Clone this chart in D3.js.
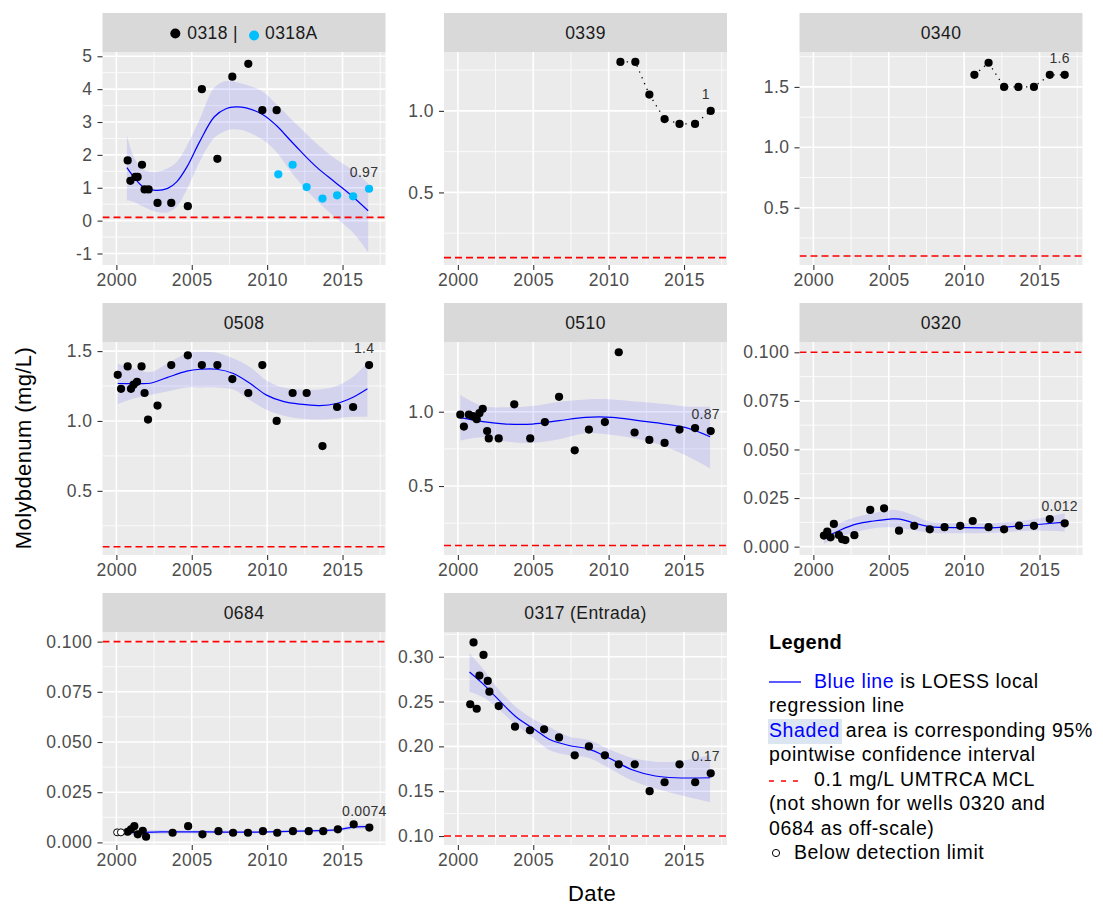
<!DOCTYPE html>
<html>
<head>
<meta charset="utf-8">
<script src="https://cdn.jsdelivr.net/npm/d3@7"></script>
<style>
  body { margin: 0; background: #fff; }
  svg text { font-family: "Liberation Sans", Arial, sans-serif; }
</style>
</head>
<body>
<div id="chart"></div>
<script>
// ---- data ----
// well 0318 and its replacement 0318A
var yr0318 = [2000.75, 2000.93, 2001.26, 2001.41, 2001.70, 2001.87, 2002.14, 2002.73, 2003.64, 2004.74, 2005.67, 2006.70, 2007.69, 2008.75, 2009.68, 2010.63];
var mo0318 = [1.83, 1.21, 1.33, 1.33, 1.70, 0.95, 0.95, 0.54, 0.54, 0.44, 4.00, 1.88, 4.38, 4.77, 3.36, 3.36];
var yr0318A = [2010.74, 2011.69, 2012.62, 2013.67, 2014.64, 2015.70, 2016.76];
var mo0318A = [1.41, 1.70, 1.02, 0.67, 0.77, 0.74, 0.97];
// loess rows: [year, fit, lower, upper]
var loess0318 = [[2000.7,1.61,0.62,2.59],[2001.2,1.30,0.56,1.90],[2001.8,1.02,0.42,1.55],[2002.6,0.92,0.27,1.48],
  [2003.4,0.98,0.25,1.59],[2004.0,1.18,0.42,1.78],[2004.7,1.65,0.97,2.30],[2005.5,2.38,1.77,3.05],[2006.5,3.16,2.52,4.05],
  [2007.3,3.41,2.74,4.25],[2007.9,3.46,2.78,4.22],[2008.6,3.43,2.72,4.13],[2009.7,3.23,2.46,3.93],[2010.6,2.90,2.10,3.55],
  [2011.5,2.46,1.53,3.14],[2012.2,2.12,1.14,2.82],[2013.3,1.62,0.60,2.34],[2014.5,1.17,0.10,1.89],[2015.7,0.72,-0.37,1.53],
  [2016.7,0.30,-0.97,1.13]];

var yr0339 = [2010.78, 2011.77, 2012.70, 2013.71, 2014.70, 2015.73, 2016.77];
var mo0339 = [1.30, 1.30, 1.10, 0.95, 0.92, 0.92, 1.00];

var yr0340 = [2010.68, 2011.62, 2012.65, 2013.60, 2014.63, 2015.68, 2016.67];
var mo0340 = [1.60, 1.70, 1.50, 1.50, 1.50, 1.60, 1.60];

var yr0508 = [2000.09, 2000.31, 2000.75, 2000.97, 2001.14, 2001.37, 2001.67, 2001.87, 2002.10, 2002.73, 2003.64, 2004.74,
  2005.67, 2006.70, 2007.69, 2008.75, 2009.68, 2010.63, 2011.69, 2012.62, 2013.67, 2014.64, 2015.70, 2016.76];
var mo0508 = [1.33, 1.23, 1.39, 1.23, 1.26, 1.28, 1.39, 1.20, 1.01, 1.11, 1.40, 1.47,
  1.40, 1.40, 1.30, 1.20, 1.40, 1.00, 1.20, 1.20, 0.82, 1.10, 1.10, 1.40];
var loess0508 = [[2000.09,1.268,1.12,1.41],[2001.14,1.268,1.16,1.376],[2002.25,1.27,1.185,1.35],[2003.35,1.31,1.21,1.41],
  [2004.67,1.357,1.24,1.483],[2005.56,1.37,1.24,1.495],[2006.65,1.37,1.24,1.488],[2007.76,1.34,1.225,1.447],
  [2008.86,1.27,1.15,1.387],[2009.96,1.185,1.08,1.29],[2011.06,1.14,1.04,1.24],[2012.17,1.12,1.018,1.226],
  [2013.49,1.11,1.01,1.226],[2014.6,1.125,1.018,1.25],[2015.7,1.17,1.03,1.316],[2016.65,1.23,1.03,1.416]];

var yr0510 = [2000.16, 2000.40, 2000.73, 2000.99, 2001.25, 2001.43, 2001.65, 2001.94, 2002.05, 2002.71, 2003.74, 2004.80,
  2005.77, 2006.71, 2007.75, 2008.69, 2009.75, 2010.67, 2011.72, 2012.70, 2013.71, 2014.70, 2015.73, 2016.77];
var mo0510 = [0.98, 0.90, 0.98, 0.97, 0.95, 0.99, 1.02, 0.87, 0.82, 0.82, 1.05, 0.82,
  0.93, 1.10, 0.74, 0.88, 0.93, 1.40, 0.86, 0.81, 0.79, 0.88, 0.89, 0.87];
var loess0510 = [[2000.16,0.96,0.805,1.112],[2001.65,0.933,0.828,1.038],[2003.19,0.917,0.80,1.03],[2004.95,0.917,0.79,1.038],
  [2006.71,0.94,0.814,1.067],[2008.48,0.962,0.855,1.083],[2010.23,0.962,0.843,1.083],[2011.99,0.94,0.814,1.067],
  [2013.76,0.917,0.764,1.052],[2015.29,0.888,0.697,1.034],[2016.73,0.832,0.619,1.034]];

var yr0320 = [2000.70, 2000.92, 2001.14, 2001.36, 2001.69, 2001.91, 2002.12, 2002.72, 2003.77, 2004.69, 2005.68,
  2006.69, 2007.72, 2008.70, 2009.74, 2010.57, 2011.62, 2012.65, 2013.64, 2014.63, 2015.68, 2016.67];
var mo0320 = [0.0057, 0.0077, 0.0048, 0.0117, 0.0060, 0.0038, 0.0034, 0.0059, 0.0189, 0.0197, 0.0082,
  0.0107, 0.0089, 0.0100, 0.0107, 0.0132, 0.0100, 0.0089, 0.0108, 0.0107, 0.0142, 0.0120];
var loess0320 = [[2000.70,0.0043,0.0015,0.0069],[2001.8,0.0086,0.0051,0.0123],[2002.89,0.0117,0.0077,0.0154],
  [2003.99,0.0132,0.0095,0.0172],[2005.09,0.0142,0.0100,0.0189],[2005.74,0.0142,0.0095,0.0185],[2006.62,0.0123,0.0086,0.0163],
  [2007.72,0.0103,0.0072,0.0129],[2009.91,0.0098,0.0069,0.0120],[2012.11,0.0098,0.0072,0.0123],[2014.3,0.0110,0.0082,0.0137],
  [2016.67,0.0126,0.0078,0.0172]];

var yr0684nd = [2000.05, 2000.30];
var mo0684nd = [0.0050, 0.0050];
var yr0684 = [2000.75, 2000.97, 2001.19, 2001.42, 2001.75, 2001.97, 2003.73, 2004.76, 2005.71, 2006.77, 2007.74,
  2008.73, 2009.72, 2010.67, 2011.71, 2012.76, 2013.72, 2014.69, 2015.74, 2016.78];
var mo0684 = [0.0053, 0.0065, 0.0081, 0.0040, 0.0058, 0.0028, 0.0048, 0.0081, 0.0040, 0.0056, 0.0048,
  0.0048, 0.0056, 0.0048, 0.0056, 0.0056, 0.0056, 0.0065, 0.0090, 0.0074];
var loess0684 = [[2000.05,0.0047,0.0034,0.0060],[2003.0,0.0052,0.0042,0.0062],[2006.0,0.0052,0.0044,0.0060],
  [2009.0,0.0051,0.0044,0.0058],[2012.0,0.0056,0.0049,0.0063],[2014.6,0.0062,0.0053,0.0071],[2015.7,0.0076,0.0066,0.0086],
  [2016.78,0.0078,0.0066,0.0090]];

var yr0317 = [2000.82, 2001.04, 2001.25, 2001.43, 2001.70, 2001.98, 2002.09, 2002.71, 2003.79, 2004.78, 2005.72,
  2006.71, 2007.75, 2008.69, 2009.75, 2010.67, 2011.73, 2012.72, 2013.71, 2014.70, 2015.74, 2016.77];
var mo0317 = [0.247, 0.316, 0.242, 0.279, 0.302, 0.273, 0.261, 0.245, 0.222, 0.218, 0.219,
  0.210, 0.190, 0.200, 0.190, 0.180, 0.180, 0.150, 0.160, 0.180, 0.160, 0.170];
var loess0317 = [[2000.77,0.283,0.261,0.304],[2001.65,0.270,0.255,0.287],[2002.53,0.255,0.244,0.267],[2003.85,0.233,0.224,0.244],
  [2005.17,0.218,0.207,0.229],[2006.05,0.208,0.196,0.222],[2007.37,0.201,0.190,0.211],[2008.69,0.197,0.187,0.207],
  [2010.01,0.187,0.176,0.197],[2011.55,0.174,0.162,0.187],[2013.1,0.167,0.153,0.183],[2014.42,0.165,0.147,0.183],
  [2016.73,0.165,0.138,0.190]];

// tick labels
var xTicks = [2000, 2005, 2010, 2015];
var ticks0318 = [-1, 0, 1, 2, 3, 4, 5];
var ticks0339 = [0.5, 1.0];
var ticks0340 = [0.5, 1.0, 1.5];
var ticks0508 = [0.5, 1.0, 1.5];
var ticks0510 = [0.5, 1.0];
var ticksSmall = [0, 0.025, 0.05, 0.075, 0.1];
var ticks0317 = [0.10, 0.15, 0.20, 0.25, 0.30];

var mcl = 0.1;

// ---- layout ----
var svgWidth = 1103, svgHeight = 905;
var colX = [102.5, 444, 799.5];
var rowY = [13, 303, 593];
var panelW = 283, stripH = 39, panelH = 213;
var xDomain = [1999.08, 2017.85];

var svg = d3.select("#chart").append("svg")
    .attr("width", svgWidth)
    .attr("height", svgHeight);

function pts(xs, ys) { return xs.map(function(d, i) { return [d, ys[i]]; }); }

// R prints a plain hyphen for negatives
function rfmt(spec) {
  var f = d3.format(spec);
  return function(d) { return f(d).replace("\u2212", "-"); };
}

var panels = [
  { id: "p0318", title: null, col: 0, row: 0, yDomain: [-1.35, 5.13], ticks: ticks0318, fmt: rfmt("d"),
    series: [{ data: pts(yr0318, mo0318), fill: "#000" }, { data: pts(yr0318A, mo0318A), fill: "#00BFFF" }],
    loess: loess0318, label: "0.97" },
  { id: "p0339", title: "0339", col: 1, row: 0, yDomain: [0.055, 1.361], ticks: ticks0339, fmt: rfmt(".1f"),
    series: [{ data: pts(yr0339, mo0339), fill: "#000" }], dotted: true, label: "1" },
  { id: "p0340", title: "0340", col: 2, row: 0, yDomain: [0.026, 1.789], ticks: ticks0340, fmt: rfmt(".1f"),
    series: [{ data: pts(yr0340, mo0340), fill: "#000" }], dotted: true, label: "1.6" },
  { id: "p0508", title: "0508", col: 0, row: 1, yDomain: [0.041, 1.565], ticks: ticks0508, fmt: rfmt(".1f"),
    series: [{ data: pts(yr0508, mo0508), fill: "#000" }], loess: loess0508, label: "1.4" },
  { id: "p0510", title: "0510", col: 1, row: 1, yDomain: [0.036, 1.469], ticks: ticks0510, fmt: rfmt(".1f"),
    series: [{ data: pts(yr0510, mo0510), fill: "#000" }], loess: loess0510, label: "0.87" },
  { id: "p0320", title: "0320", col: 2, row: 1, yDomain: [-0.0043, 0.1053], ticks: ticksSmall, fmt: rfmt(".3f"),
    series: [{ data: pts(yr0320, mo0320), fill: "#000" }], loess: loess0320, label: "0.012" },
  { id: "p0684", title: "0684", col: 0, row: 2, yDomain: [-0.0013, 0.1048], ticks: ticksSmall, fmt: rfmt(".3f"),
    series: [{ data: pts(yr0684, mo0684), fill: "#000" }], nd: pts(yr0684nd, mo0684nd), loess: loess0684, label: "0.0074" },
  { id: "p0317", title: "0317 (Entrada)", col: 1, row: 2, yDomain: [0.090, 0.3276], ticks: ticks0317, fmt: rfmt(".2f"),
    series: [{ data: pts(yr0317, mo0317), fill: "#000" }], loess: loess0317, label: "0.17" }
];

function minorOf(ticks, domain) {
  var step = ticks[1] - ticks[0], out = [];
  for (var v = ticks[0] - step / 2; v <= domain[1]; v += step) {
    if (v >= domain[0]) out.push(v);
  }
  return out;
}

panels.forEach(function(p) {
  var g = svg.append("g")
      .attr("transform", `translate(${colX[p.col]}, ${rowY[p.row]})`);

  // strip
  g.append("rect").attr("width", panelW).attr("height", stripH).attr("fill", "#D9D9D9");
  if (p.title) {
    g.append("text")
      .attr("x", panelW / 2).attr("y", stripH / 2 + 6)
      .attr("text-anchor", "middle")
      .style("font-size", "17.5px").style("letter-spacing", "0.4px")
      .attr("fill", "#1A1A1A")
      .text(p.title);
  } else {
    // two-well strip with coloured dots
    var sg = g.append("g");
    sg.append("circle").attr("cx", 0).attr("cy", stripH / 2 + 1).attr("r", 5).attr("fill", "#000");
    var t1 = sg.append("text").attr("x", 12).attr("y", stripH / 2 + 6)
      .style("font-size", "17.5px").style("letter-spacing", "0.4px").attr("fill", "#1A1A1A").text("0318 |");
    var w1 = t1.node().getComputedTextLength();
    sg.append("circle").attr("cx", 12 + w1 + 16).attr("cy", stripH / 2 + 3).attr("r", 5).attr("fill", "#00BFFF");
    var t2 = sg.append("text").attr("x", 12 + w1 + 27).attr("y", stripH / 2 + 6)
      .style("font-size", "17.5px").style("letter-spacing", "0.4px").attr("fill", "#1A1A1A").text("0318A");
    var total = 12 + w1 + 27 + t2.node().getComputedTextLength() + 5;
    sg.attr("transform", `translate(${(panelW - total) / 2 + 5}, 0)`);
  }

  var pg = g.append("g").attr("transform", `translate(0, ${stripH})`);
  pg.append("rect").attr("width", panelW).attr("height", panelH).attr("fill", "#EBEBEB");

  var x = d3.scaleLinear().domain(xDomain).range([0, panelW]);
  var y = d3.scaleLinear().domain(p.yDomain).range([panelH, 0]);

  // grid lines
  var xMinor = minorOf(xTicks, xDomain);
  var yMinor = minorOf(p.ticks, p.yDomain);
  pg.selectAll(".xmin").data(xMinor).enter().append("line")
    .attr("x1", d => x(d)).attr("x2", d => x(d)).attr("y1", 0).attr("y2", panelH)
    .attr("stroke", "#fff").attr("stroke-width", 0.8);
  pg.selectAll(".ymin").data(yMinor).enter().append("line")
    .attr("x1", 0).attr("x2", panelW).attr("y1", d => y(d)).attr("y2", d => y(d))
    .attr("stroke", "#fff").attr("stroke-width", 0.8);
  pg.selectAll(".xmaj").data(xTicks).enter().append("line")
    .attr("x1", d => x(d)).attr("x2", d => x(d)).attr("y1", 0).attr("y2", panelH)
    .attr("stroke", "#fff").attr("stroke-width", 1.6);
  pg.selectAll(".ymaj").data(p.ticks).enter().append("line")
    .attr("x1", 0).attr("x2", panelW).attr("y1", d => y(d)).attr("y2", d => y(d))
    .attr("stroke", "#fff").attr("stroke-width", 1.6);

  // clip
  svg.append("clipPath").attr("id", "clip-" + p.id)
    .append("rect").attr("width", panelW).attr("height", panelH);
  var cg = pg.append("g").attr("clip-path", `url(#clip-${p.id})`);

  // loess ribbon + line
  if (p.loess) {
    cg.append("path")
      .datum(p.loess)
      .attr("d", d3.area().curve(d3.curveCatmullRom)
        .x(d => x(d[0])).y0(d => y(d[2])).y1(d => y(d[3])))
      .attr("fill", "#0000FF").attr("fill-opacity", 0.1);
    cg.append("path")
      .datum(p.loess)
      .attr("d", d3.line().curve(d3.curveCatmullRom).x(d => x(d[0])).y(d => y(d[1])))
      .attr("fill", "none").attr("stroke", "#0000FF").attr("stroke-width", 1.2);
  }

  // dotted connecting line
  if (p.dotted) {
    cg.append("path")
      .datum(p.series[0].data)
      .attr("d", d3.line().x(d => x(d[0])).y(d => y(d[1])))
      .attr("fill", "none").attr("stroke", "#000").attr("stroke-width", 1.3)
      .attr("stroke-dasharray", "1.3,5");
  }

  // points
  p.series.forEach(function(s) {
    cg.selectAll(null).data(s.data).enter().append("circle")
      .attr("cx", d => x(d[0])).attr("cy", d => y(d[1]))
      .attr("r", 4.1).attr("fill", s.fill);
  });
  if (p.nd) {
    cg.selectAll(null).data(p.nd).enter().append("circle")
      .attr("cx", d => x(d[0])).attr("cy", d => y(d[1]))
      .attr("r", 3.5).attr("fill", "#fff").attr("stroke", "#000").attr("stroke-width", 1);
  }

  // MCL line
  cg.append("line")
    .attr("x1", 0).attr("x2", panelW).attr("y1", y(mcl)).attr("y2", y(mcl))
    .attr("stroke", "#FF0000").attr("stroke-width", 1.6).attr("stroke-dasharray", "7,4");

  // last value label
  var last = p.series[p.series.length - 1].data;
  last = last[last.length - 1];
  pg.append("text")
    .attr("x", x(last[0]) - 5).attr("y", y(last[1]) - 12)
    .attr("text-anchor", "middle")
    .style("font-size", "14px").style("letter-spacing", "0.3px")
    .attr("fill", "#333")
    .text(p.label);

  // axes
  var leftAxis = d3.axisLeft(y).tickValues(p.ticks).tickFormat(p.fmt).tickSize(5).tickPadding(5);
  var bottomAxis = d3.axisBottom(x).tickValues(xTicks).tickFormat(d3.format("d")).tickSize(5).tickPadding(4);

  var ay = pg.append("g").call(leftAxis);
  var ax = pg.append("g").attr("transform", `translate(0, ${panelH})`).call(bottomAxis);
  [ax, ay].forEach(function(a) {
    a.select(".domain").remove();
    a.selectAll(".tick line").attr("stroke", "#333").attr("stroke-width", 1.1);
    a.selectAll(".tick text")
      .attr("fill", "#4D4D4D")
      .style("font-size", "17.5px").style("letter-spacing", "0.5px")
      .style("font-family", "'Liberation Sans', Arial, sans-serif");
  });
});

// axis titles
svg.append("text")
  .attr("transform", "translate(31, 448) rotate(-90)")
  .attr("text-anchor", "middle")
  .style("font-size", "22px").style("letter-spacing", "0.4px")
  .attr("fill", "#000")
  .text("Molybdenum (mg/L)");

svg.append("text")
  .attr("x", 592).attr("y", 901)
  .attr("text-anchor", "middle")
  .style("font-size", "22px").style("letter-spacing", "0.4px")
  .attr("fill", "#000")
  .text("Date");

// legend note
var lg = svg.append("g").style("font-size", "19.5px").style("letter-spacing", "0.6px");
lg.append("text").attr("x", 769).attr("y", 649)
  .style("font-weight", "bold").style("font-size", "20px").style("letter-spacing", "0.3px").text("Legend");

lg.append("line").attr("x1", 769).attr("x2", 801).attr("y1", 682).attr("y2", 682)
  .attr("stroke", "#0000FF").attr("stroke-width", 1.3);
var l1 = lg.append("text").attr("x", 814).attr("y", 688);
l1.append("tspan").attr("fill", "#0000FF").text("Blue line");
l1.append("tspan").attr("fill", "#000").text(" is LOESS local");
lg.append("text").attr("x", 769).attr("y", 712).text("regression line");

lg.append("rect").attr("x", 768).attr("y", 719).attr("width", 74).attr("height", 25).attr("fill", "#DCE6F2");
var l3 = lg.append("text").attr("x", 769).attr("y", 737);
l3.append("tspan").attr("fill", "#0000FF").text("Shaded");
l3.append("tspan").attr("fill", "#000").text(" area is corresponding 95%");
lg.append("text").attr("x", 769).attr("y", 761).text("pointwise confidence interval");

lg.append("line").attr("x1", 769).attr("x2", 802).attr("y1", 781).attr("y2", 781)
  .attr("stroke", "#FF0000").attr("stroke-width", 1.3).attr("stroke-dasharray", "5,7");
lg.append("text").attr("x", 814).attr("y", 786).text("0.1 mg/L UMTRCA MCL");
lg.append("text").attr("x", 769).attr("y", 810).text("(not shown for wells 0320 and");
lg.append("text").attr("x", 769).attr("y", 835).text("0684 as off-scale)");
lg.append("circle").attr("cx", 776).attr("cy", 853).attr("r", 3.6)
  .attr("fill", "none").attr("stroke", "#000").attr("stroke-width", 1);
lg.append("text").attr("x", 794).attr("y", 859).text("Below detection limit");
</script>
</body>
</html>
